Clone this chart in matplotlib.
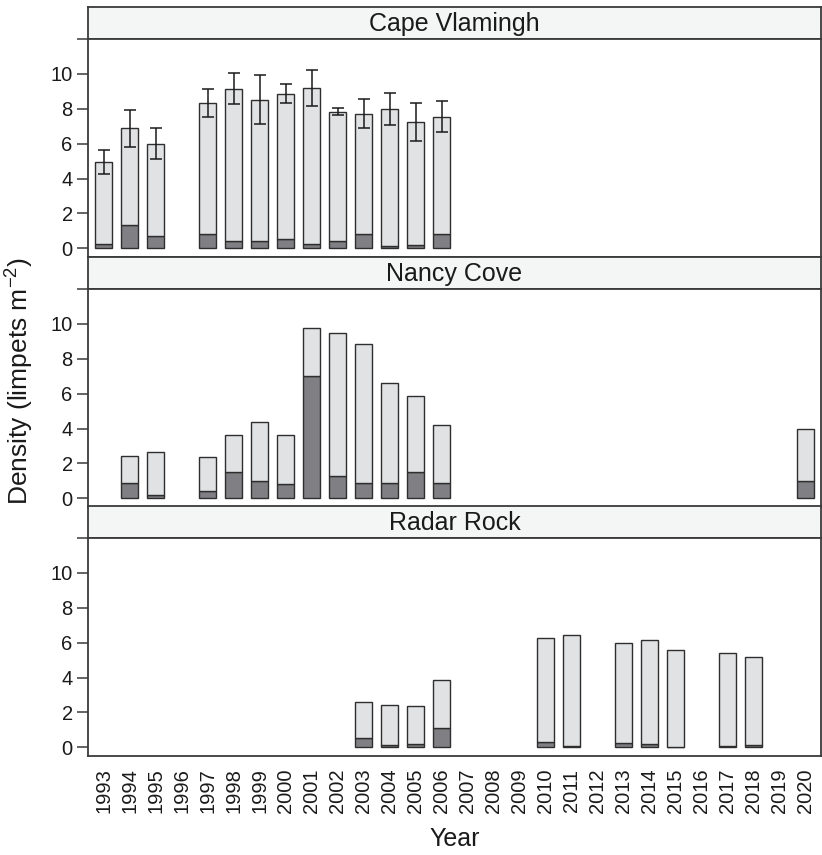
import numpy as np
import matplotlib
matplotlib.use("Agg")
import matplotlib.pyplot as plt

plt.rcParams['font.family'] = ['Liberation Sans', 'DejaVu Sans']
plt.rcParams['mathtext.default'] = 'regular'

years = list(range(1993, 2021))
year_labels = [str(y) for y in years]

# Cape Vlamingh
cv_years = [1993, 1994, 1995, 1997, 1998, 1999, 2000, 2001, 2002, 2003, 2004, 2005, 2006]
cv_total = [4.95, 6.88, 6.00, 8.34, 9.16, 8.53, 8.87, 9.20, 7.82, 7.72, 7.97, 7.25, 7.55]
cv_dark = [0.25, 1.36, 0.69, 0.80, 0.42, 0.40, 0.52, 0.23, 0.40, 0.84, 0.13, 0.18, 0.80]
cv_err = [0.70, 1.07, 0.88, 0.82, 0.91, 1.43, 0.55, 1.05, 0.20, 0.84, 0.92, 1.08, 0.91]

# Nancy Cove
nc_years = [1994, 1995, 1997, 1998, 1999, 2000, 2001, 2002, 2003, 2004, 2005, 2006, 2020]
nc_total = [2.40, 2.63, 2.35, 3.61, 4.35, 3.61, 9.77, 9.45, 8.87, 6.62, 5.86, 4.20, 3.95]
nc_dark = [0.88, 0.19, 0.42, 1.53, 0.97, 0.80, 7.04, 1.30, 0.88, 0.88, 1.53, 0.88, 1.01]

# Radar Rock
rr_years = [2003, 2004, 2005, 2006, 2010, 2011, 2013, 2014, 2015, 2017, 2018]
rr_total = [2.62, 2.45, 2.37, 3.86, 6.27, 6.42, 5.97, 6.14, 5.60, 5.41, 5.20]
rr_dark = [0.52, 0.11, 0.17, 1.13, 0.31, 0.06, 0.25, 0.19, 0.0, 0.08, 0.13]

sites = ["Cape Vlamingh", "Nancy Cove", "Radar Rock"]
site_data = [
    (cv_years, cv_total, cv_dark, cv_err),
    (nc_years, nc_total, nc_dark, None),
    (rr_years, rr_total, rr_dark, None),
]

W, H = 822, 855
fig = plt.figure(figsize=(W / 100, H / 100), dpi=100)

LIGHT = '#e1e2e4'
DARK = '#7f7f84'
EDGE = '#2e2e2e'
SPINE = '#3a3a3a'
STRIP = '#f4f5f5'

x_left, x_right = 88, 821
strip_tops = [7, 257, 506]
strip_h = 32
plot_h = 218

def ax_rect(top, h):
    return [x_left / W, 1 - (top + h) / H, (x_right - x_left) / W, h / H]

for i, (site, (yrs, tot, dk, err)) in enumerate(zip(sites, site_data)):
    st = strip_tops[i]
    sax = fig.add_axes(ax_rect(st, strip_h))
    sax.set_facecolor(STRIP)
    sax.set_xticks([]); sax.set_yticks([])
    for sp in sax.spines.values():
        sp.set_color(SPINE); sp.set_linewidth(1.3)
    sax.text(0.5, 0.47, site, transform=sax.transAxes, ha='center', va='center',
             fontsize=18, color='#1a1a1a')

    ax = fig.add_axes(ax_rect(st + strip_h, plot_h))
    pos = np.array([years.index(y) for y in yrs])
    tot = np.array(tot); dk = np.array(dk)
    ax.bar(pos, dk, width=0.66, color=DARK, edgecolor=EDGE, linewidth=1.0, zorder=2)
    ax.bar(pos, tot - dk, bottom=dk, width=0.66, color=LIGHT, edgecolor=EDGE,
           linewidth=1.0, zorder=2)
    if err is not None:
        ax.errorbar(pos, tot, yerr=err, fmt='none', ecolor='#1a1a1a', elinewidth=1.1,
                    capsize=4.0, capthick=1.1, zorder=3)
    ax.set_xlim(-0.6, len(years) - 0.4)
    ax.set_ylim(-0.5, 12)
    ax.set_yticks([0, 2, 4, 6, 8, 10, 12])
    ax.set_yticklabels(['0', '2', '4', '6', '8', '10', ''])
    ax.tick_params(axis='y', direction='out', length=8, width=1.1, color=SPINE,
                   labelsize=14.5, labelcolor='#1a1a1a', pad=3)
    for sp in ax.spines.values():
        sp.set_color(SPINE); sp.set_linewidth(1.3)
    ax.set_xticks(range(len(years)))
    if i == 2:
        ax.set_xticklabels(year_labels, rotation=90, fontsize=14.5, color='#1a1a1a')
        ax.tick_params(axis='x', length=0, pad=9)
        ax.set_xlabel('Year', fontsize=18, color='#1a1a1a', labelpad=10)
    else:
        ax.set_xticklabels([])
        ax.tick_params(axis='x', length=0)

fig.text(20 / W, 1 - 381 / H, r'Density (limpets m$^{-2}$)', rotation=90,
         ha='center', va='center', fontsize=19, color='#1a1a1a')

fig.savefig('out.png', dpi=100)
